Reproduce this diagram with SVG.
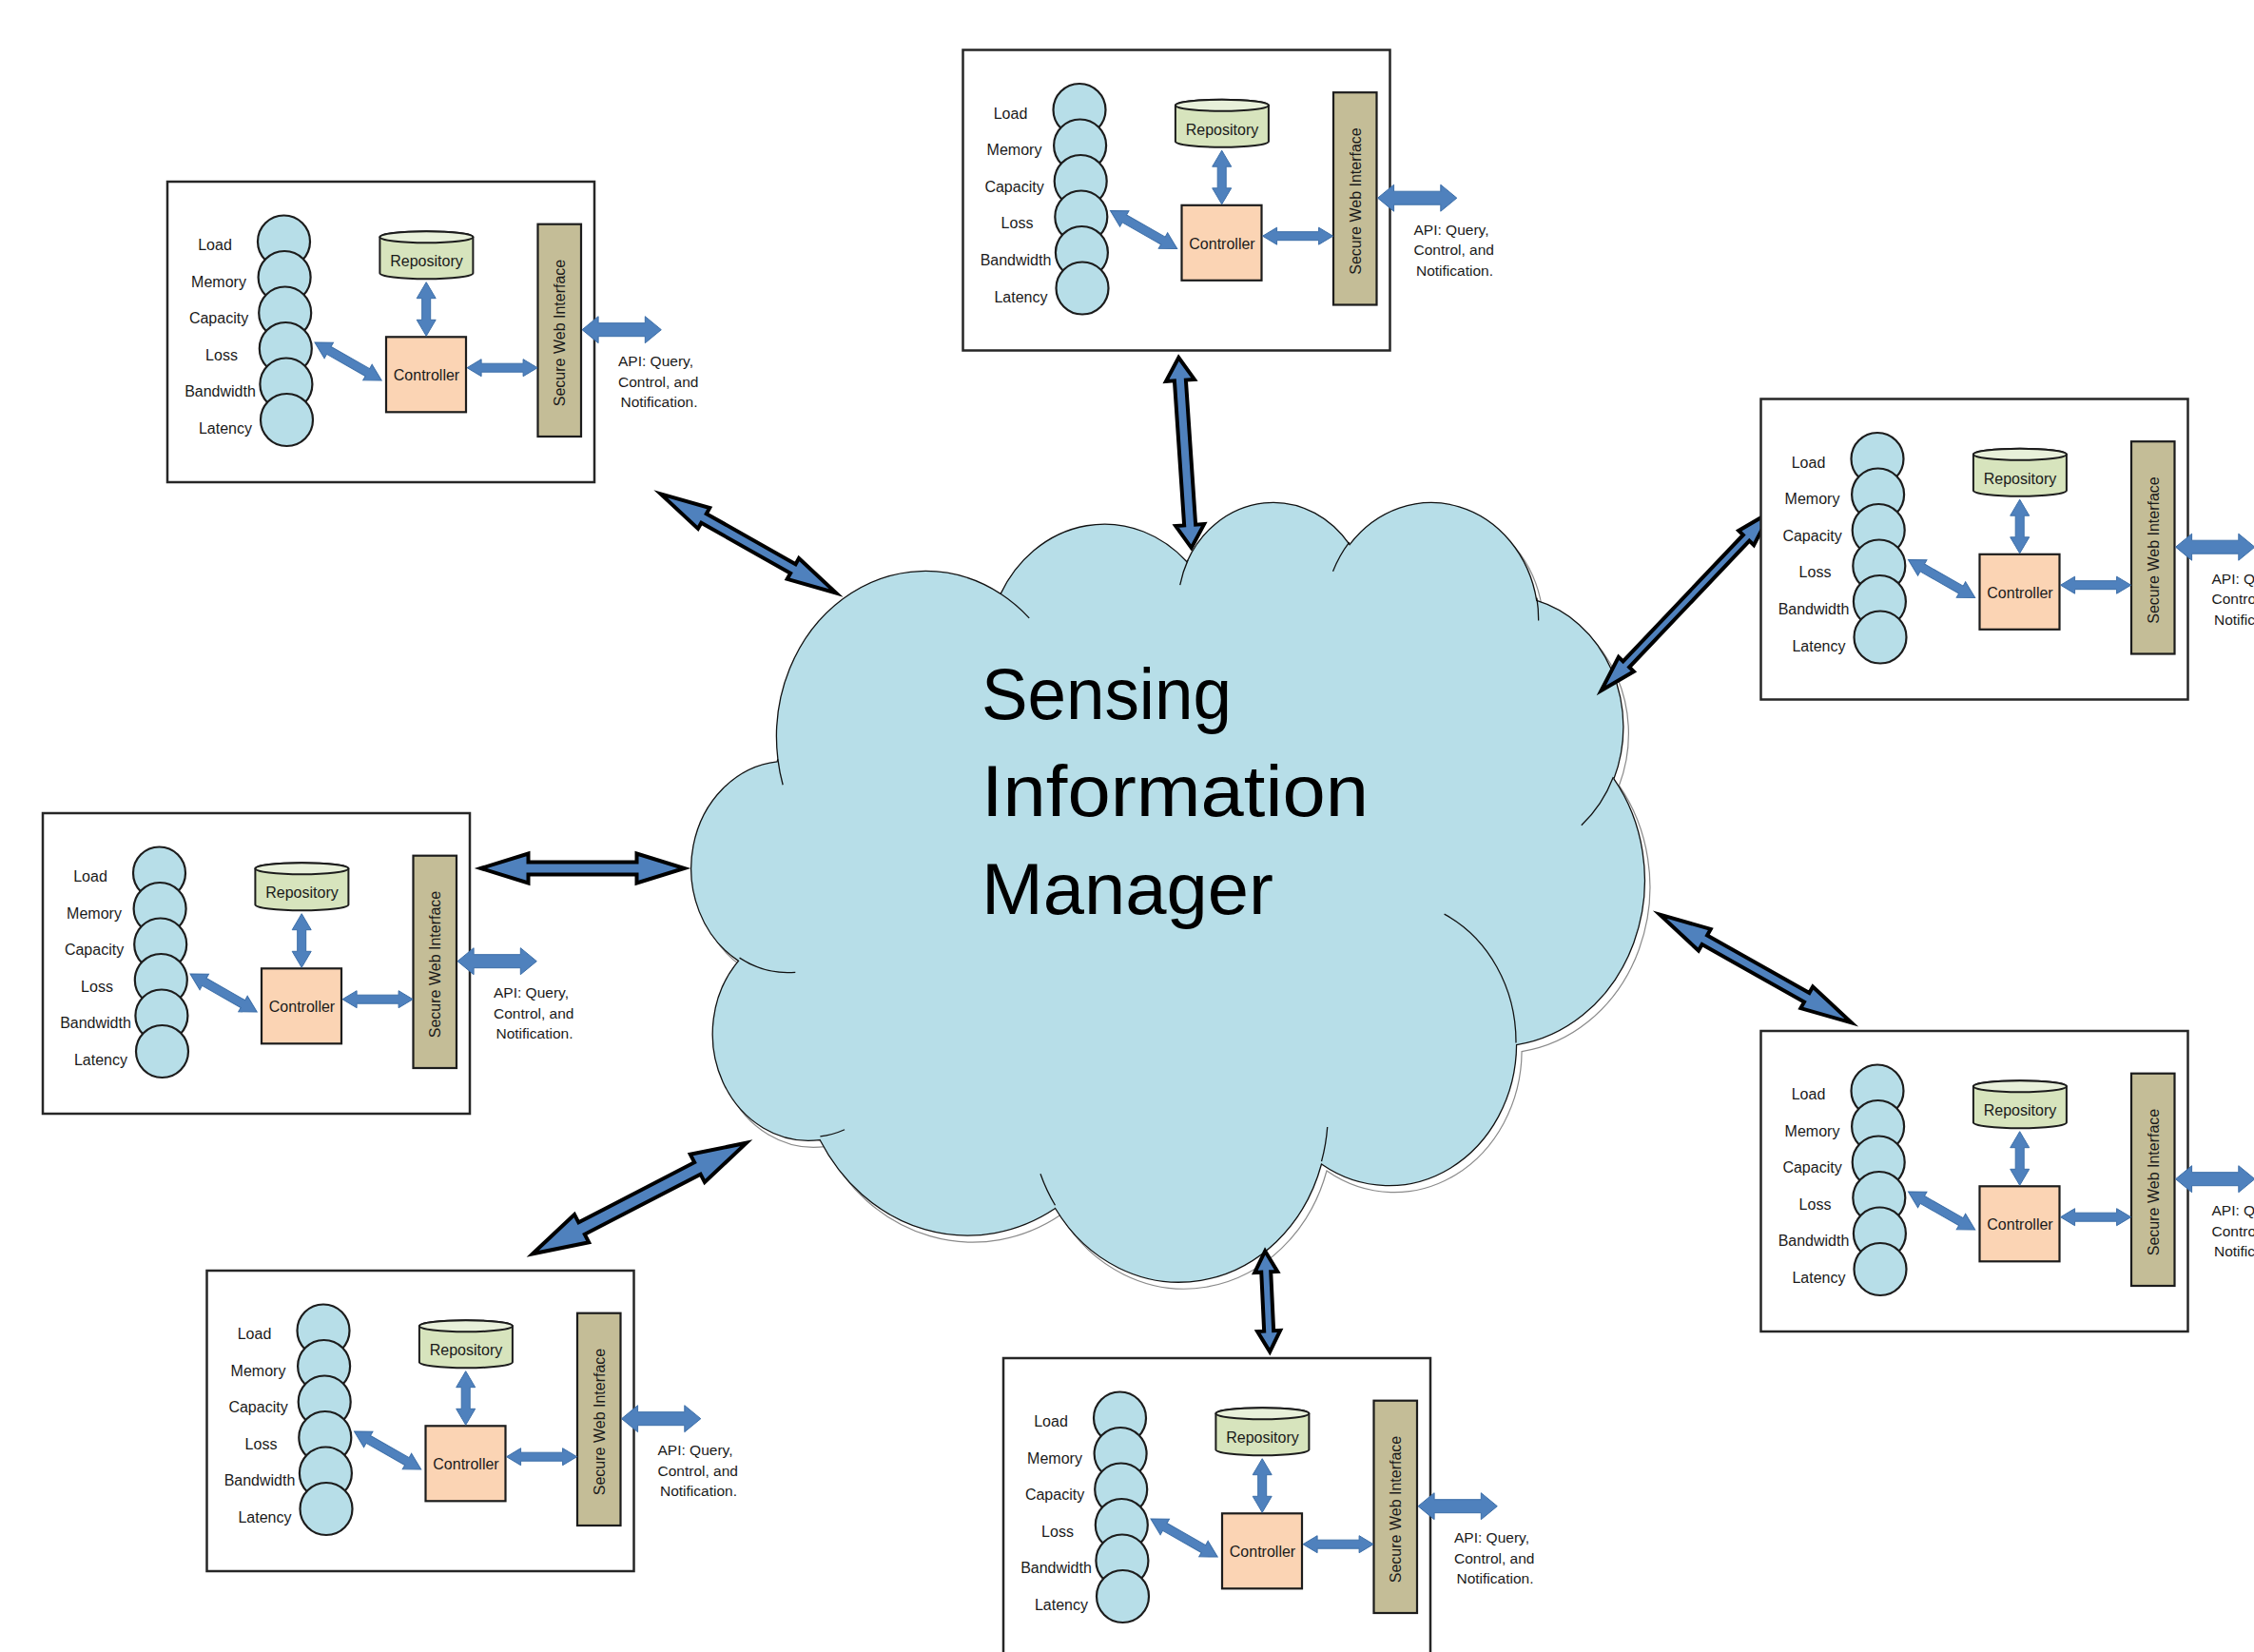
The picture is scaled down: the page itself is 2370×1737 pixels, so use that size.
<svg xmlns="http://www.w3.org/2000/svg" xmlns:xlink="http://www.w3.org/1999/xlink" width="2370" height="1737" viewBox="0 0 2370 1737">
<style>
.box{fill:#fff;stroke:#262626;stroke-width:2.5}
.sensor{fill:#B7DEE8;stroke:#1c1c1c;stroke-width:2.2}
.repo{fill:#D7E4BD;stroke:#1c1c1c;stroke-width:2}
.repotop{fill:#E8F0DA;stroke:#1c1c1c;stroke-width:2}
.ctrl{fill:#FBD4B4;stroke:#1c1c1c;stroke-width:2.2}
.bar{fill:#C4BD97;stroke:#1c1c1c;stroke-width:2.2}
.sarrow{fill:#4F81BD;stroke:#3C6EA8;stroke-width:1}
.barrow{fill:#4F81BD;stroke:#000;stroke-width:4;stroke-linejoin:miter;stroke-miterlimit:12}
.cloud{fill:#B7DEE8;stroke:#111;stroke-width:1.3}
.shadow{fill:#fff;stroke:#8a8a8a;stroke-width:1.2}
.inner{fill:none;stroke:#111;stroke-width:1.3}
.nss{vector-effect:non-scaling-stroke}
.lbl{font-family:"Liberation Sans",Arial,sans-serif;font-size:16px;fill:#1a1a1a}
.c{text-anchor:middle}
.api{font-size:15.5px}
.title{font-family:"Liberation Sans",Arial,sans-serif;font-size:76px;fill:#000}
</style>
<defs>
<g id="modShapes">
<rect class="box" x="0" y="0" width="449" height="316"/>
<circle class="sensor" cx="122.5" cy="63" r="27.5"/>
<circle class="sensor" cx="123.1" cy="100.5" r="27.5"/>
<circle class="sensor" cx="123.7" cy="138" r="27.5"/>
<circle class="sensor" cx="124.3" cy="175.5" r="27.5"/>
<circle class="sensor" cx="124.9" cy="213" r="27.5"/>
<circle class="sensor" cx="125.5" cy="250.5" r="27.5"/>
<path class="repo" d="M223.4,58.3 A49,6 0 0 1 321.4,58.3 V96.3 A49,6 0 0 1 223.4,96.3 Z"/>
<ellipse class="repotop" cx="272.4" cy="58.3" rx="49" ry="6"/>
<rect class="ctrl" x="230" y="163.3" width="84" height="79"/>
<rect class="bar" x="389.5" y="44.7" width="45.5" height="223.3"/>
<polygon class="sarrow" transform="translate(272.2,105.7) rotate(90)" points="0,0 17,-10 17,-4.5 39.6,-4.5 39.6,-10 56.6,0 39.6,10 39.6,4.5 17,4.5 17,10"/>
<polygon class="sarrow" transform="translate(155,169) rotate(29.67)" points="0,0 17,-9.5 17,-4.5 63.8,-4.5 63.8,-9.5 80.8,0 63.8,9.5 63.8,4.5 17,4.5 17,9.5"/>
<polygon class="sarrow" transform="translate(315.1,195.7)" points="0,0 15,-9 15,-4.5 59,-4.5 59,-9 74,0 59,9 59,4.5 15,4.5 15,9"/>
<polygon class="sarrow" transform="translate(436.1,155.7)" points="0,0 17,-14 17,-7 66.2,-7 66.2,-14 83.2,0 66.2,14 66.2,7 17,7 17,14"/>
</g>
</defs>

<g id="cloud">
<path class="shadow nss" transform="translate(733,532.7) scale(0.02318,0.01897)" d="M3900 14370 A6753 9190 0 0 1 14004.8 5201.8 A5333 7267 0 0 1 22457.3 3431.1 A4365 5945 0 0 1 29834.9 2479.2 A4857 6595 0 0 1 38320.1 5574.5 A5333 7273 0 0 1 41820.6 15458.3 A6775 9220 0 0 1 37406.6 30201.2 A5785 7867 0 0 1 28558.7 36811.8 A6752 9215 0 0 1 16483.1 39263.5 A7720 10543 0 0 1 5805.7 35469.2 A4360 5918 0 0 1 2113.6 25548.7 A4345 5945 0 0 1 3863.9 14505.5 Z"/>
<path class="cloud nss" transform="translate(727.5,525.7) scale(0.02318,0.01897)" d="M3900 14370 A6753 9190 0 0 1 14004.8 5201.8 A5333 7267 0 0 1 22457.3 3431.1 A4365 5945 0 0 1 29834.9 2479.2 A4857 6595 0 0 1 38320.1 5574.5 A5333 7273 0 0 1 41820.6 15458.3 A6775 9220 0 0 1 37406.6 30201.2 A5785 7867 0 0 1 28558.7 36811.8 A6752 9215 0 0 1 16483.1 39263.5 A7720 10543 0 0 1 5805.7 35469.2 A4360 5918 0 0 1 2113.6 25548.7 A4345 5945 0 0 1 3863.9 14505.5 Z"/>
<path class="inner nss" transform="translate(727.5,525.7) scale(0.02318,0.01897)" d="M4693 26177 A4345 5945 0 0 1 2159.4 25379.6 M6928 34899 A4360 5918 0 0 1 5819.5 35280.5 M16478 39090 A6752 9215 0 0 1 15810.2 37349.4 M28827 34751 A6752 9215 0 0 1 28560.5 36659.6 M34129 22954 A5785 7867 0 0 1 37380.7 30089.8 M41798 15354 A5333 7273 0 0 1 40349.8 18030.3 M38324 5426 A4857 6595 0 0 1 38400.4 6689.5 M29078 3952 A4857 6595 0 0 1 29819.9 2339.4 M22141 4720 A4365 5945 0 0 1 22499.9 3330.8 M14000 5192 A6753 9190 0 0 1 15301.9 6542.9 M4127 15789 A6753 9190 0 0 1 3900.1 14370"/>
<text class="title" x="1032" y="756" textLength="263" lengthAdjust="spacingAndGlyphs">Sensing</text>
<text class="title" x="1032" y="858" textLength="407" lengthAdjust="spacingAndGlyphs">Information</text>
<text class="title" x="1032" y="961" textLength="307" lengthAdjust="spacingAndGlyphs">Manager</text>
</g>

<g id="connectors">
<polygon class="barrow" transform="translate(694.8,519.4) rotate(29.46)" points="0,0 52,-12.5 52,-5.5 159.7,-5.5 159.7,-12.5 211.7,0 159.7,12.5 159.7,5.5 52,5.5 52,12.5"/>
<polygon class="barrow" transform="translate(1239.3,376) rotate(86.15)" points="0,0 24,-15 24,-6 176.5,-6 176.5,-15 200.5,0 176.5,15 176.5,6 24,6 24,15"/>
<polygon class="barrow" transform="translate(1683.7,726) rotate(-46.47)" points="0,0 38,-11 38,-4.5 221.3,-4.5 221.3,-11 259.3,0 221.3,11 221.3,4.5 38,4.5 38,11"/>
<polygon class="barrow" transform="translate(505.5,913)" points="0,0 50,-15.5 50,-6.5 164,-6.5 164,-15.5 214,0 164,15.5 164,6.5 50,6.5 50,15.5"/>
<polygon class="barrow" transform="translate(1745.3,961.7) rotate(29.43)" points="0,0 54,-13 54,-5.5 177.3,-5.5 177.3,-13 231.3,0 177.3,13 177.3,5.5 54,5.5 54,13"/>
<polygon class="barrow" transform="translate(560.1,1318.3) rotate(-27.42)" points="0,0 58,-16.5 58,-7 195.2,-7 195.2,-16.5 253.2,0 195.2,16.5 195.2,7 58,7 58,16.5"/>
<polygon class="barrow" transform="translate(1330.2,1315.5) rotate(87.3)" points="0,0 22,-12 22,-5 84,-5 84,-12 106,0 84,12 84,5 22,5 22,12"/>
</g>

<g id="module-top-left" transform="translate(176,191)">
<use href="#modShapes"/>
<text class="lbl c" x="50" y="72">Load</text>
<text class="lbl c" x="54" y="110.6">Memory</text>
<text class="lbl c" x="54" y="149.2">Capacity</text>
<text class="lbl c" x="57" y="187.8">Loss</text>
<text class="lbl c" x="55.5" y="226.4">Bandwidth</text>
<text class="lbl c" x="61" y="265">Latency</text>
<text class="lbl c" x="272.5" y="89">Repository</text>
<text class="lbl c" x="272.5" y="209">Controller</text>
<text class="lbl c" transform="translate(418,159) rotate(-90)">Secure Web Interface</text>
<text class="lbl api" x="474" y="194">API: Query,</text>
<text class="lbl api" x="474" y="215.7">Control, and</text>
<text class="lbl api" x="476.5" y="237.3">Notification.</text>
</g>

<g id="module-top-center" transform="translate(1012.5,52.5)">
<use href="#modShapes"/>
<text class="lbl c" x="50" y="72">Load</text>
<text class="lbl c" x="54" y="110.6">Memory</text>
<text class="lbl c" x="54" y="149.2">Capacity</text>
<text class="lbl c" x="57" y="187.8">Loss</text>
<text class="lbl c" x="55.5" y="226.4">Bandwidth</text>
<text class="lbl c" x="61" y="265">Latency</text>
<text class="lbl c" x="272.5" y="89">Repository</text>
<text class="lbl c" x="272.5" y="209">Controller</text>
<text class="lbl c" transform="translate(418,159) rotate(-90)">Secure Web Interface</text>
<text class="lbl api" x="474" y="194">API: Query,</text>
<text class="lbl api" x="474" y="215.7">Control, and</text>
<text class="lbl api" x="476.5" y="237.3">Notification.</text>
</g>

<g id="module-right-upper" transform="translate(1851.5,419.5)">
<use href="#modShapes"/>
<text class="lbl c" x="50" y="72">Load</text>
<text class="lbl c" x="54" y="110.6">Memory</text>
<text class="lbl c" x="54" y="149.2">Capacity</text>
<text class="lbl c" x="57" y="187.8">Loss</text>
<text class="lbl c" x="55.5" y="226.4">Bandwidth</text>
<text class="lbl c" x="61" y="265">Latency</text>
<text class="lbl c" x="272.5" y="89">Repository</text>
<text class="lbl c" x="272.5" y="209">Controller</text>
<text class="lbl c" transform="translate(418,159) rotate(-90)">Secure Web Interface</text>
<text class="lbl api" x="474" y="194">API: Query,</text>
<text class="lbl api" x="474" y="215.7">Control, and</text>
<text class="lbl api" x="476.5" y="237.3">Notification.</text>
</g>

<g id="module-left" transform="translate(45,855)">
<use href="#modShapes"/>
<text class="lbl c" x="50" y="72">Load</text>
<text class="lbl c" x="54" y="110.6">Memory</text>
<text class="lbl c" x="54" y="149.2">Capacity</text>
<text class="lbl c" x="57" y="187.8">Loss</text>
<text class="lbl c" x="55.5" y="226.4">Bandwidth</text>
<text class="lbl c" x="61" y="265">Latency</text>
<text class="lbl c" x="272.5" y="89">Repository</text>
<text class="lbl c" x="272.5" y="209">Controller</text>
<text class="lbl c" transform="translate(418,159) rotate(-90)">Secure Web Interface</text>
<text class="lbl api" x="474" y="194">API: Query,</text>
<text class="lbl api" x="474" y="215.7">Control, and</text>
<text class="lbl api" x="476.5" y="237.3">Notification.</text>
</g>

<g id="module-right-lower" transform="translate(1851.5,1084)">
<use href="#modShapes"/>
<text class="lbl c" x="50" y="72">Load</text>
<text class="lbl c" x="54" y="110.6">Memory</text>
<text class="lbl c" x="54" y="149.2">Capacity</text>
<text class="lbl c" x="57" y="187.8">Loss</text>
<text class="lbl c" x="55.5" y="226.4">Bandwidth</text>
<text class="lbl c" x="61" y="265">Latency</text>
<text class="lbl c" x="272.5" y="89">Repository</text>
<text class="lbl c" x="272.5" y="209">Controller</text>
<text class="lbl c" transform="translate(418,159) rotate(-90)">Secure Web Interface</text>
<text class="lbl api" x="474" y="194">API: Query,</text>
<text class="lbl api" x="474" y="215.7">Control, and</text>
<text class="lbl api" x="476.5" y="237.3">Notification.</text>
</g>

<g id="module-bottom-left" transform="translate(217.5,1336)">
<use href="#modShapes"/>
<text class="lbl c" x="50" y="72">Load</text>
<text class="lbl c" x="54" y="110.6">Memory</text>
<text class="lbl c" x="54" y="149.2">Capacity</text>
<text class="lbl c" x="57" y="187.8">Loss</text>
<text class="lbl c" x="55.5" y="226.4">Bandwidth</text>
<text class="lbl c" x="61" y="265">Latency</text>
<text class="lbl c" x="272.5" y="89">Repository</text>
<text class="lbl c" x="272.5" y="209">Controller</text>
<text class="lbl c" transform="translate(418,159) rotate(-90)">Secure Web Interface</text>
<text class="lbl api" x="474" y="194">API: Query,</text>
<text class="lbl api" x="474" y="215.7">Control, and</text>
<text class="lbl api" x="476.5" y="237.3">Notification.</text>
</g>

<g id="module-bottom-center" transform="translate(1055,1428)">
<use href="#modShapes"/>
<text class="lbl c" x="50" y="72">Load</text>
<text class="lbl c" x="54" y="110.6">Memory</text>
<text class="lbl c" x="54" y="149.2">Capacity</text>
<text class="lbl c" x="57" y="187.8">Loss</text>
<text class="lbl c" x="55.5" y="226.4">Bandwidth</text>
<text class="lbl c" x="61" y="265">Latency</text>
<text class="lbl c" x="272.5" y="89">Repository</text>
<text class="lbl c" x="272.5" y="209">Controller</text>
<text class="lbl c" transform="translate(418,159) rotate(-90)">Secure Web Interface</text>
<text class="lbl api" x="474" y="194">API: Query,</text>
<text class="lbl api" x="474" y="215.7">Control, and</text>
<text class="lbl api" x="476.5" y="237.3">Notification.</text>
</g>
</svg>
